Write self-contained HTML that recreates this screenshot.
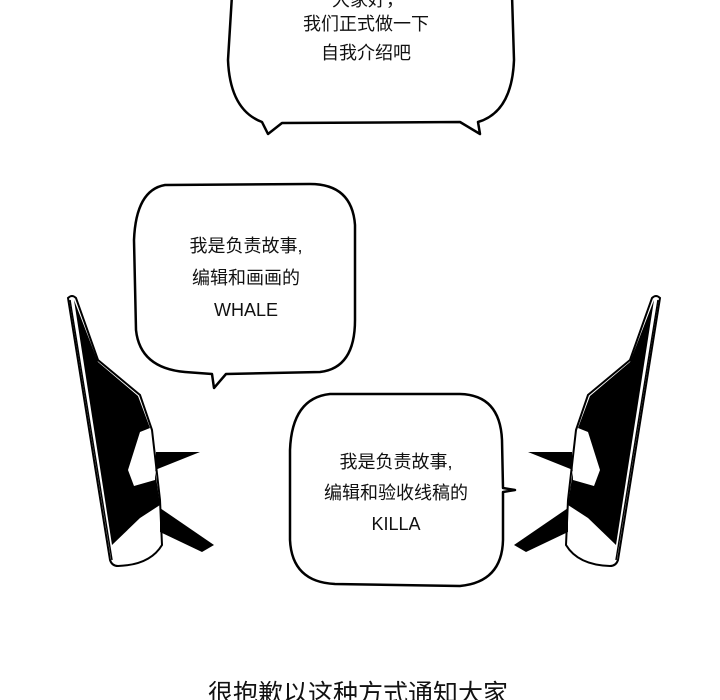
<!DOCTYPE html>
<html><head><meta charset="utf-8"><style>
html,body{margin:0;padding:0;background:#fff;}
svg{display:block}
text{font-family:"Liberation Sans","WenQuanYi Zen Hei","Noto Sans CJK SC",sans-serif;fill:#111;text-anchor:middle}
</style></head><body>
<svg width="720" height="700" viewBox="0 0 720 700" xmlns="http://www.w3.org/2000/svg">
<g fill="#fff" stroke="#000" stroke-width="2.5" stroke-linejoin="round">
<path d="M232,-5 L228,60 Q230,110 262,122 L268,134 L282,123 L460,122 L480,134 L478,122 Q512,112 514,60 L512,-5 Z"/>
<path d="M165,185 Q136,190 134,240 L136,330 Q140,368 185,372 L212,374 L214,388 L226,374 L320,372 Q355,368 355,320 L355,225 Q352,184 310,184 Z"/>
<path d="M330,394 Q292,398 290,450 L290,540 Q292,582 335,584 L460,586 Q502,582 503,540 L503,492 L515,490 L503,488 L502,440 Q500,395 460,394 Z"/>
</g>
<g id="w">
<path d="M68,298 Q72,294 76,298 L98,360 L140,395 L152,430 L160,500 L162,545 Q150,565 118,566 Q112,566 110,560 Z" fill="#fff" stroke="#000" stroke-width="2"/>
<path d="M74,300 L98,362 L138,396 L150,428 L140,432 L128,470 L134,486 L155,480 L156,452 L200,452 L155,470 L160,505 L140,518 L112,545 Z" fill="#000"/>
<path d="M160,508 L214,545 L202,552 L160,532 Z" fill="#000"/>
<path d="M70,300 L112,560" stroke="#000" stroke-width="1.5" fill="none"/>
</g>
<use href="#w" transform="translate(728,0) scale(-1,1)"/>
<g font-size="18">
<text x="368" y="6">大家好，</text>
<text x="366" y="30">我们正式做一下</text>
<text x="366" y="59">自我介绍吧</text>
<text x="246" y="252">我是负责故事,</text>
<text x="246" y="284">编辑和画画的</text>
<text x="246" y="316">WHALE</text>
<text x="396" y="468">我是负责故事,</text>
<text x="396" y="499">编辑和验收线稿的</text>
<text x="396" y="530">KILLA</text>
</g>
<text x="358" y="702" font-size="25">很抱歉以这种方式通知大家</text>
</svg>
</body></html>
